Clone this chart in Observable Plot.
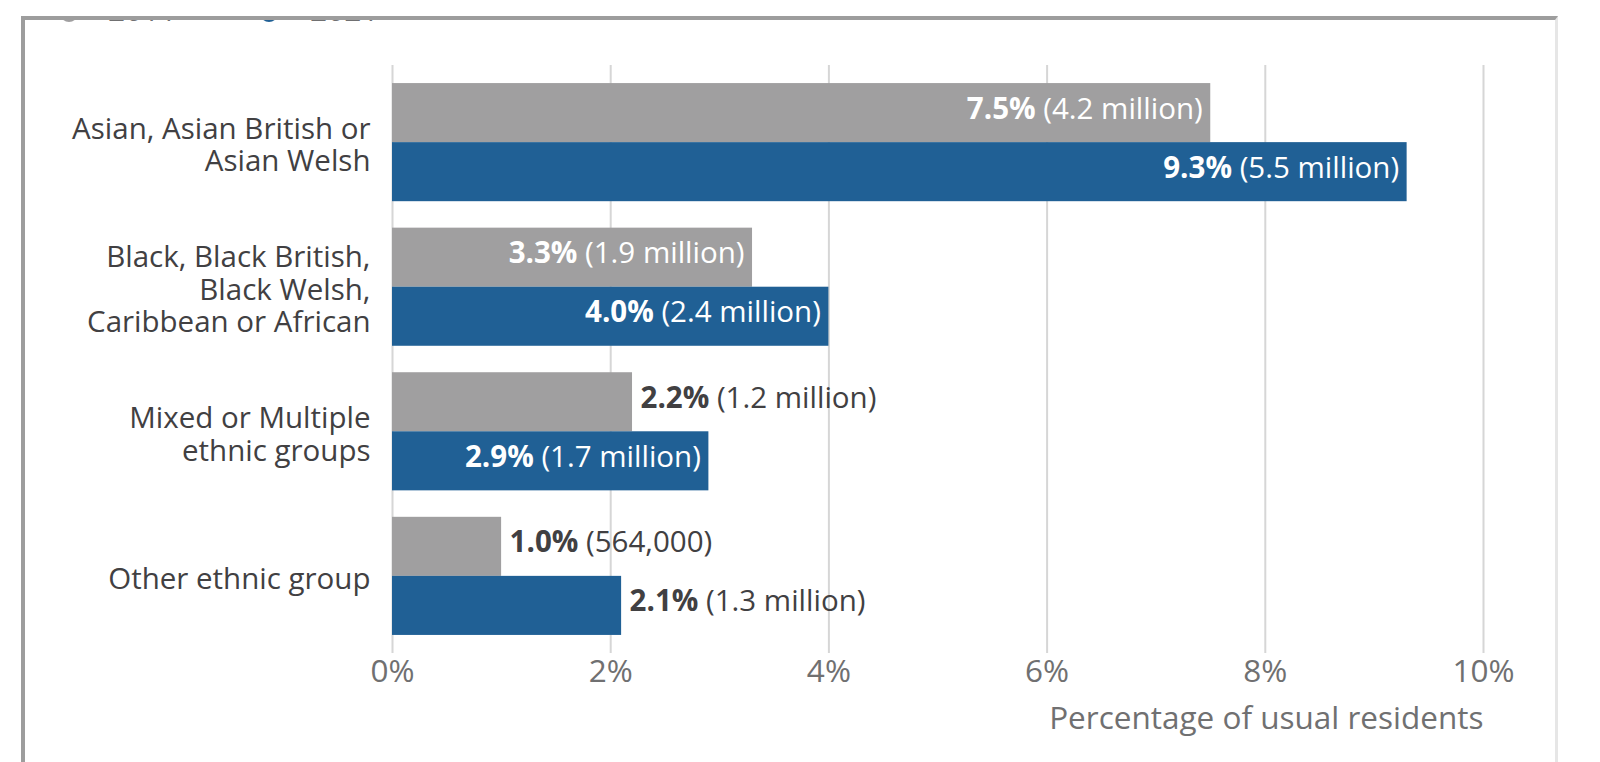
<!DOCTYPE html>
<html>
<head>
<meta charset="utf-8">
<script src="https://cdn.jsdelivr.net/npm/d3@7"></script>
<script src="https://cdn.jsdelivr.net/npm/@observablehq/plot@0.6"></script>
<style>
  html, body { margin: 0; padding: 0; background: #ffffff; }
  body { width: 1600px; height: 762px; overflow: hidden; position: relative; font-family: "Open Sans", sans-serif; }
  #frame {
    position: absolute; left: 21px; top: 16px; width: 1530px; height: 800px;
    border-top: 4px solid #9d9d9d; border-left: 4px solid #9d9d9d; border-right: 3px solid #e6e6e6;
    overflow: hidden; background: #ffffff;
  }
  #chart { position: absolute; left: -25px; top: -20px; width: 1600px; height: 762px; }
  #chart svg { max-width: none !important; width: 1600px; height: 762px; }
  .leg-dot { position: absolute; width: 18px; height: 18px; border-radius: 50%; top: -16px; }
  .leg-txt { position: absolute; top: -22px; height: 24px; line-height: 24px; font-size: 30px; color: #707071; white-space: nowrap; }
</style>
</head>
<body>
<div id="frame">
  <div class="leg-dot" style="left:35px; background:#a09fa0;"></div>
  <div class="leg-txt" style="left:83px;">2011</div>
  <div class="leg-dot" style="left:235px; background:#206095;"></div>
  <div class="leg-txt" style="left:285px;">2021</div>
  <div id="chart"></div>
</div>
<script>
// ---- data ----
const categories = [
  "Asian, Asian British or\nAsian Welsh",
  "Black, Black British,\nBlack Welsh,\nCaribbean or African",
  "Mixed or Multiple\nethnic groups",
  "Other ethnic group"
];
const pct2011 = [7.5, 3.3, 2.2, 1.0];
const pct2021 = [9.3, 4.0, 2.9, 2.1];
const count2011 = ["4.2 million", "1.9 million", "1.2 million", "564,000"];
const count2021 = ["5.5 million", "2.4 million", "1.7 million", "1.3 million"];
const xTicks = [0, 2, 4, 6, 8, 10];
const xTitle = "Percentage of usual residents";

// ---- layout ----
const W = 1600, H = 762;
const mL = 392, mR = 117, mT = 65, mB = 109;
const padInner = 0.183, padOuter = 0.125;
const step = (H - mT - mB) / (categories.length - padInner + 2 * padOuter);
const bw = step * (1 - padInner);
const half = bw / 2;
const pxPerUnit = (W - mL - mR) / (xTicks[xTicks.length - 1] - xTicks[0]);
const FS_VAL = 29.5, FS_CAT = 29.5, FS_AX = 31.5;
const gray = "#a09fa0", blue = "#206095", dark = "#414042", axisGray = "#707071";

const rows2011 = categories.map((c, i) => ({category: c, value: pct2011[i], count: count2011[i]}));
const rows2021 = categories.map((c, i) => ({category: c, value: pct2021[i], count: count2021[i]}));

const ctx = document.createElement("canvas").getContext("2d");
function labelWidth(d) {
  ctx.font = `bold ${FS_VAL}px "Open Sans"`;
  const a = ctx.measureText(d.value.toFixed(1) + "%").width;
  ctx.font = `${FS_VAL}px "Open Sans"`;
  const b = ctx.measureText(" (" + d.count + ")").width;
  return a + b;
}
const fits = d => d.value * pxPerUnit > labelWidth(d) + 16;
const labelText = d => d.value.toFixed(1) + "% (" + d.count + ")";

function valueLabels(rows, dy) {
  return [
    Plot.text(rows.filter(fits), {x: "value", y: "category", text: labelText, textAnchor: "end", dx: -8, dy,
      fill: "white", fontSize: FS_VAL}),
    Plot.text(rows.filter(d => !fits(d)), {x: "value", y: "category", text: labelText, textAnchor: "start", dx: 8, dy,
      fill: dark, fontSize: FS_VAL})
  ];
}

const chart = Plot.plot({
  width: W, height: H,
  marginLeft: mL, marginRight: mR, marginTop: mT, marginBottom: mB,
  style: {fontFamily: "'Open Sans', sans-serif", fontSize: FS_CAT + "px", background: "transparent", overflow: "visible", maxWidth: "none"},
  x: {domain: [xTicks[0], xTicks[xTicks.length - 1]]},
  y: {domain: categories, paddingInner: padInner, paddingOuter: padOuter, align: 0.5, round: false},
  marks: [
    Plot.ruleX(xTicks, {stroke: "#d6d6d6", strokeWidth: 2}),
    Plot.barX(rows2011, {x: "value", y: "category", fill: gray, insetBottom: half}),
    Plot.barX(rows2021, {x: "value", y: "category", fill: blue, insetTop: half}),
    ...valueLabels(rows2011, -half / 2 - 4),
    ...valueLabels(rows2021, half / 2 - 4),
    Plot.axisX({ticks: xTicks, tickSize: 0, tickPadding: 6, tickFormat: d => d + "%", fill: axisGray, fontSize: FS_AX, label: null}),
    Plot.axisY({tickSize: 0, tickPadding: 22, dy: 2, fill: dark, fontSize: FS_CAT, lineHeight: 1.107, label: null}),
    Plot.text([xTitle], {frameAnchor: "bottom-right", dy: 75, textAnchor: "end", fill: axisGray, fontSize: FS_AX})
  ]
});
document.getElementById("chart").appendChild(chart);

// mixed weight: bold percentage, regular count
d3.select(chart).selectAll("text").each(function () {
  const t = this.textContent;
  if (!/^\d+\.\d% \(/.test(t) || this.querySelector("tspan")) return;
  const k = t.indexOf(" ");
  const sel = d3.select(this);
  sel.text(null);
  sel.append("tspan").attr("font-weight", "bold").text(t.slice(0, k));
  sel.append("tspan").text(t.slice(k));
});
</script>
</body>
</html>
